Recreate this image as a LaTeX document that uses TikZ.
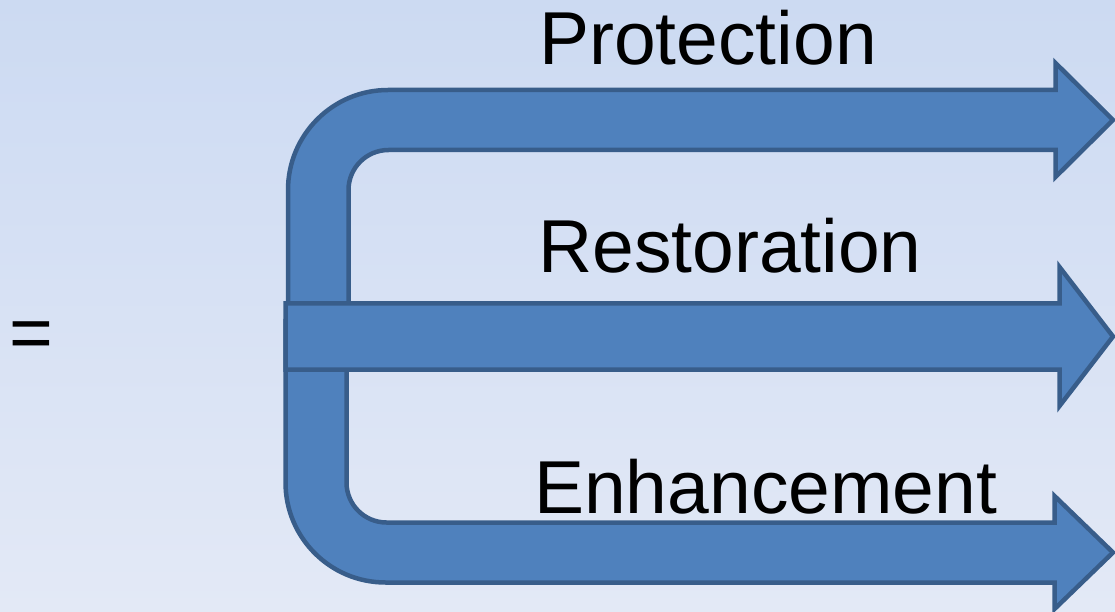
\documentclass[tikz,border=0pt]{standalone}
\usepackage{fontspec}
\setmainfont{Liberation Sans}
\usepackage{tikz}

\definecolor{arrowfill}{HTML}{4F81BD}
\definecolor{arrowline}{HTML}{385D8A}
\definecolor{bgtop}{RGB}{204,218,242}
\definecolor{bgmid}{RGB}{218,226,243}
\definecolor{bgbot}{RGB}{227,233,246}

\tikzset{
	arrowshape/.style={fill=arrowfill, draw=arrowline, line width=4.5pt},
	bigword/.style={inner sep=0pt, anchor=base west, font=\fontsize{75}{90}\selectfont}
}

\begin{document}
\begin{tikzpicture}[x=1pt, y=1pt]
		%%%%% START %%%%%
		
		\useasboundingbox (0, 0) rectangle (1115, 611);
		\fill[top color=bgtop, middle color=bgmid, bottom color=bgbot] (0, 0) rectangle (1115, 611);
		
		% upper bent arrow
		\draw[arrowshape] (288, 260) -- (288, 421) arc (180:90:100) -- (1055.5, 521)
			-- (1055.5, 548) -- (1113, 491) -- (1055.5, 434) -- (1055.5, 461)
			-- (388.5, 461) arc (90:180:40) -- (348.5, 260) -- cycle;
		
		% lower bent arrow
		\draw[arrowshape] (285.5, 290) -- (285.5, 128.5) arc (180:270:100) -- (1054.5, 28.5)
			-- (1054.5, 2) -- (1113, 58.5) -- (1054.5, 115) -- (1054.5, 88.5)
			-- (386.5, 88.5) arc (270:180:40) -- (346.5, 290) -- cycle;
		
		% straight arrow in the middle
		\draw[arrowshape] (285.5, 241.5) -- (285.5, 307.5) -- (1059.5, 307.5)
			-- (1059.5, 344) -- (1113, 274.5) -- (1059.5, 205) -- (1059.5, 241.5) -- cycle;
		
		\node[bigword] (prot) at (539, 546) {Protection};
		\node[bigword] (rest) at (538, 338) {Restoration};
		\node[bigword] (enh) at (534, 98) {Enhancement};
		
		\node[bigword] (eq) at (9.5, 253) {=};
		
		%%%%% END %%%%%
	\end{tikzpicture}
\end{document}
